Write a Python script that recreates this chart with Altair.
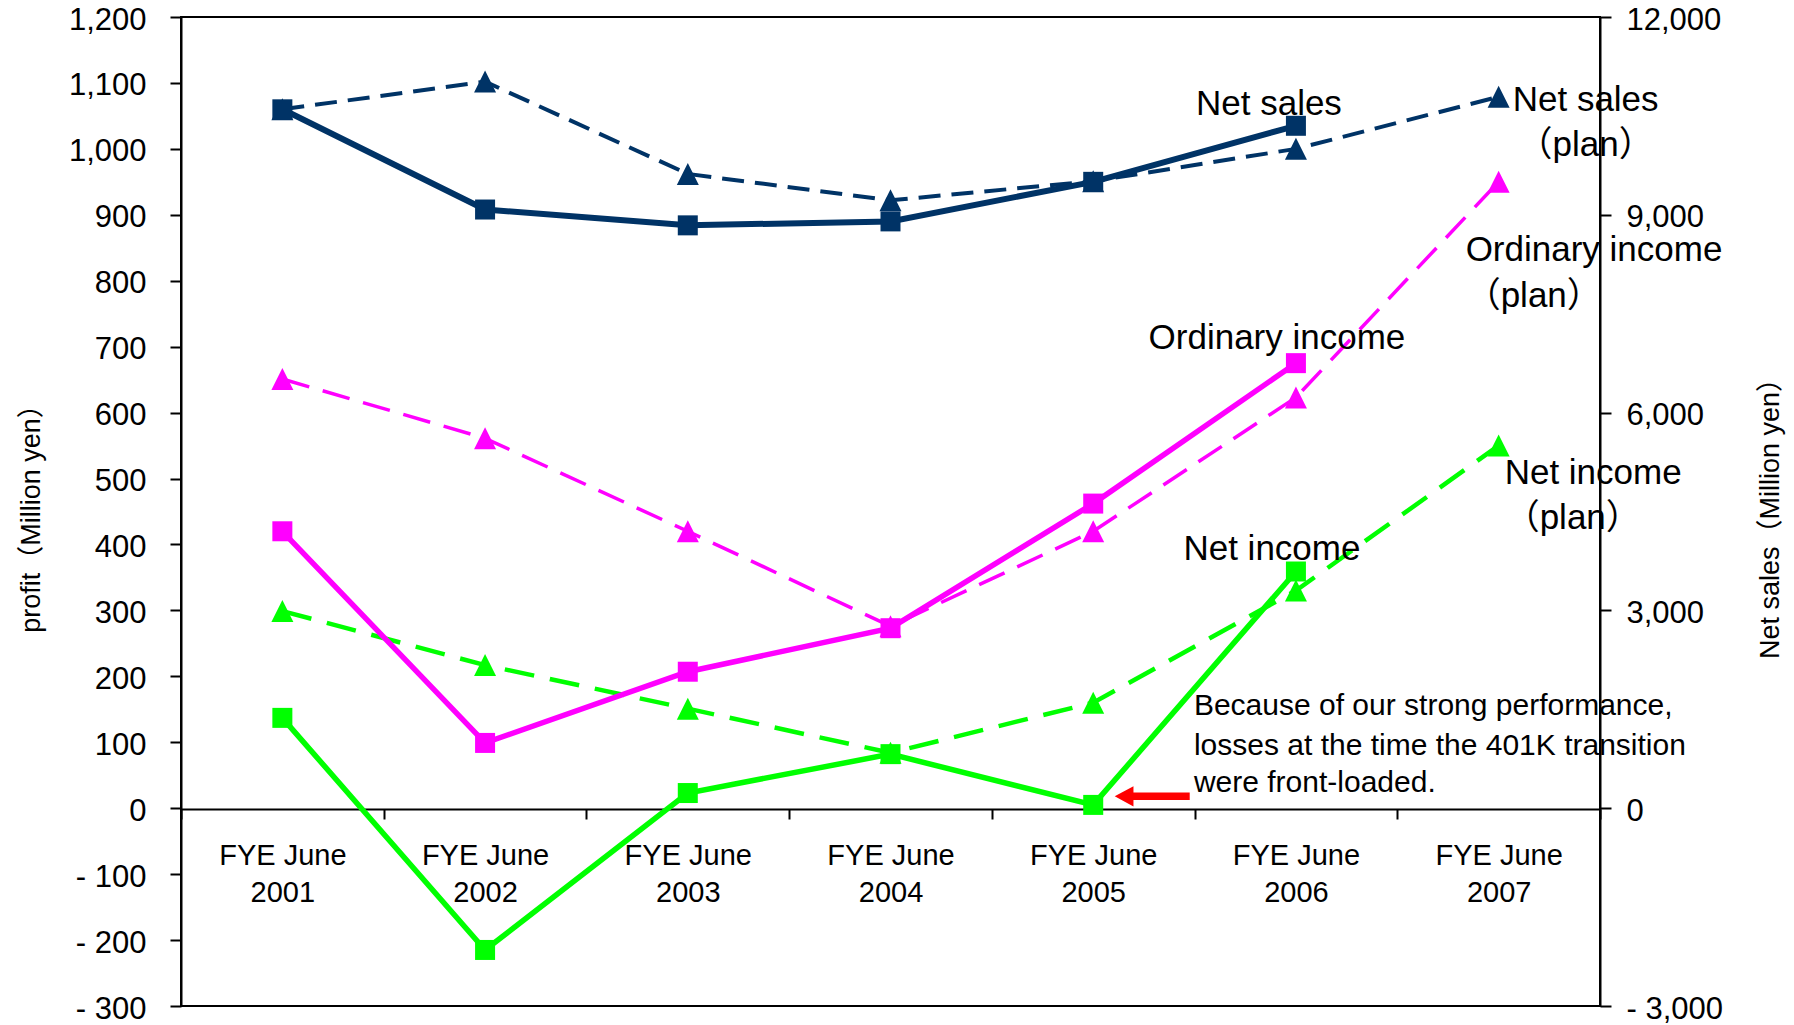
import altair as alt
import pandas as pd

# ---------------- data ----------------
years = ["FYE June 2001", "FYE June 2002", "FYE June 2003", "FYE June 2004",
         "FYE June 2005", "FYE June 2006", "FYE June 2007"]

# Net sales (right axis, million yen)
net_sales = [10600, 9080, 8840, 8900, 9500, 10350, None]
net_sales_plan = [10600, 11020, 9620, 9220, 9510, 10000, 10790]

# Profits (left axis, million yen)
ordinary_income = [420, 99, 207, 273, 462, 675, None]
ordinary_income_plan = [651, 561, 420, 276, 420, 623, 950]
net_income = [137, -215, 23, 82, 5, 359, None]
net_income_plan = [299, 217, 151, 84, 160, 330, 550]

left_ticks = list(range(-300, 1201, 100))
right_ticks = [-3000, 0, 3000, 6000, 9000, 12000]

# annotations: text, category, value on profit scale
ann_texts = ["Net sales", "Net sales", "（plan）", "Ordinary income", "（plan）",
             "Ordinary income", "Net income", "（plan）", "Net income"]
ann_years = ["FYE June 2006", "FYE June 2007", "FYE June 2007", "FYE June 2007", "FYE June 2007",
             "FYE June 2006", "FYE June 2007", "FYE June 2007", "FYE June 2006"]
ann_values = [1052, 1057, 989, 830, 760, 696, 491, 423, 376]

note_lines = ["Because of our strong performance,",
              "losses at the time the 401K transition",
              "were front-loaded."]
note_year = "FYE June 2006"
note_values = [141, 80, 24]

arrow_year = "FYE June 2005"
arrow_value = 18

# ---------------- styling ----------------
FONT = "Liberation Sans, Arial, Noto Sans CJK JP, sans-serif"
NAVY = "#003366"
MAGENTA = "#FF00FF"
GREEN = "#00FF00"

W, H = 1419, 989

neg_label = "(datum.value < 0 ? '- ' : '') + format(abs(datum.value), ',')"

x_axis = alt.Axis(
    orient="bottom", offset=-197, title=None, labelAngle=0,
    domain=True, domainColor="black", domainWidth=2,
    ticks=True, tickBand="extent", tickSize=10, tickWidth=2, tickColor="black",
    labelExpr="datum.label ? ['FYE June', slice(datum.label, 9)] : ''",
    labelFont=FONT, labelFontSize=29, labelColor="black", labelLineHeight=37,
    labelPadding=22, labelBaseline="top", grid=False,
)
X = alt.X("year:N", sort=years,
          scale=alt.Scale(type="band", domain=years, paddingInner=0, paddingOuter=0),
          axis=x_axis)

left_axis = alt.Axis(
    orient="left", values=left_ticks, labelExpr=neg_label, grid=False,
    domainColor="black", domainWidth=2, tickColor="black", tickWidth=2, tickSize=11,
    labelFont=FONT, labelFontSize=31, labelColor="black", labelPadding=24, labelOffset=3,
    title="profit（Million yen）", titleFont=FONT, titleFontSize=27,
    titleFontWeight="normal", titleColor="black", titleAngle=270,
    titleX=-150, titleY=H / 2, titleAlign="center", titleBaseline="middle",
)
right_axis = alt.Axis(
    orient="right", values=right_ticks, labelExpr=neg_label, grid=False,
    domainColor="black", domainWidth=2, tickColor="black", tickWidth=2, tickSize=11,
    labelFont=FONT, labelFontSize=31, labelColor="black", labelPadding=15, labelOffset=3,
    title="Net sales（Million yen）", titleFont=FONT, titleFontSize=27,
    titleFontWeight="normal", titleColor="black", titleAngle=270,
    titleX=170, titleY=H / 2, titleAlign="center", titleBaseline="middle",
)
Y_left = alt.Y("value:Q", scale=alt.Scale(domain=[-300, 1200], nice=False, zero=False),
               axis=left_axis)
Y_right = alt.Y("value:Q", scale=alt.Scale(domain=[-3000, 12000], nice=False, zero=False),
                axis=right_axis)


def frame(vals):
    return pd.DataFrame([{"year": y, "value": v} for y, v in zip(years, vals) if v is not None])


def series(vals, Y, color, width, dash, shape, size):
    df = frame(vals)
    line_kw = dict(color=color, strokeWidth=width)
    if dash:
        line_kw["strokeDash"] = dash
    line = alt.Chart(df).mark_line(**line_kw).encode(x=X, y=Y)
    pts = alt.Chart(df).mark_point(shape=shape, size=size, filled=True, color=color,
                                   opacity=1, strokeWidth=0).encode(x=X, y=Y)
    return line, pts


SQ, TRI = 400, 484
TRI_SHAPE = "M0,-1L-1,1L1,1Z"

oi_plan = series(ordinary_income_plan, Y_left, MAGENTA, 3.5, [28, 14], TRI_SHAPE, TRI)
ni_plan = series(net_income_plan, Y_left, GREEN, 4.5, [30, 16], TRI_SHAPE, TRI)
oi = series(ordinary_income, Y_left, MAGENTA, 5.5, None, "square", SQ)
ni = series(net_income, Y_left, GREEN, 5.5, None, "square", SQ)

ns_plan = series(net_sales_plan, Y_right, NAVY, 4, [22, 11], TRI_SHAPE, TRI)
ns = series(net_sales, Y_right, NAVY, 6, None, "square", SQ)

# annotations
ann_specs = [(-27, "center"), (87, "center"), (87, "center"), (-33, "left"), (-33, "left"),
             (-19, "center"), (6, "left"), (6, "left"), (-24, "center")]
ann_layers = []
for t, yr, v, (dx, al) in zip(ann_texts, ann_years, ann_values, ann_specs):
    d = pd.DataFrame({"year": [yr], "value": [v], "text": [t]})
    ann_layers.append(
        alt.Chart(d).mark_text(dx=dx, align=al, baseline="alphabetic", font=FONT,
                               fontSize=35, color="black")
        .encode(x=X, y=Y_left, text="text:N")
    )

note_df = pd.DataFrame({"year": [note_year] * 3, "value": note_values, "text": note_lines})
note = alt.Chart(note_df).mark_text(dx=-102, align="left", baseline="alphabetic", font=FONT,
                                    fontSize=30, color="black").encode(
    x=X, y=Y_left, text="text:N")

arrow_df = pd.DataFrame({"year": [arrow_year], "value": [arrow_value]})
arrow = alt.Chart(arrow_df).mark_point(
    shape="M-1,0L-0.5,-0.27L-0.5,-0.1L1,-0.1L1,0.1L-0.5,0.1L-0.5,0.27Z",
    size=5625, filled=True, color="#FF0000", opacity=1, strokeWidth=0, xOffset=59
).encode(x=X, y=Y_left)

profit = alt.layer(oi_plan[0], ni_plan[0], oi[0], ni[0],
                   oi_plan[1], ni_plan[1], oi[1], ni[1],
                   *ann_layers, note, arrow)
sales = alt.layer(ns_plan[0], ns[0], ns_plan[1], ns[1])

chart = alt.layer(profit, sales).resolve_scale(y="independent").properties(
    width=W, height=H,
    autosize=alt.AutoSizeParams(type="none"),
    padding={"left": 173, "top": 9, "right": 186, "bottom": 18},
    background="white",
).configure_view(stroke="black", strokeWidth=2)

chart.save("out.html", embed_options={"renderer": "svg", "actions": False})
